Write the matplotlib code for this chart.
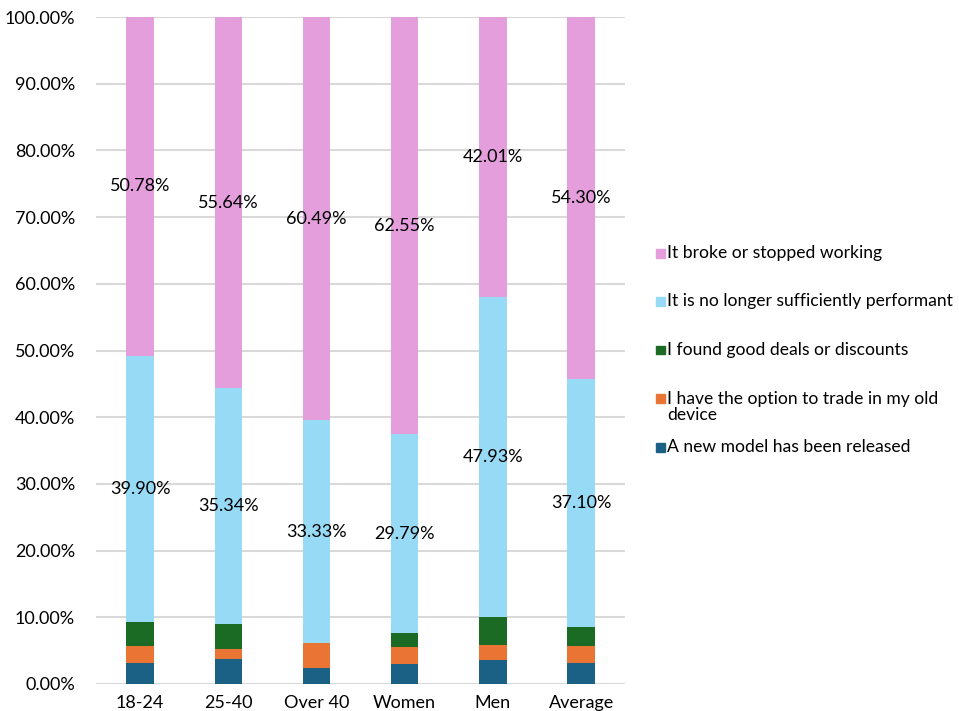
import numpy as np
import matplotlib
matplotlib.use('Agg')
import matplotlib.pyplot as plt
from matplotlib.patches import Rectangle

plt.rcParams['font.family'] = ['Lato', 'DejaVu Sans']

groups = ['18-24', '25-40', 'Over 40', 'Women', 'Men', 'Average']
new_model = [3.10, 3.76, 2.47, 2.98, 3.55, 3.15]
trade_in = [2.56, 1.50, 3.71, 2.55, 2.37, 2.50]
good_deals = [3.66, 3.76, 0.00, 2.13, 4.14, 2.95]
not_performant = [39.90, 35.34, 33.33, 29.79, 47.93, 37.10]
broke = [50.78, 55.64, 60.49, 62.55, 42.01, 54.30]

series = [
    ('A new model has been released', new_model, '#1B6185', False),
    ('I have the option to trade in my old\ndevice', trade_in, '#EA7434', False),
    ('I found good deals or discounts', good_deals, '#1B6B24', False),
    ('It is no longer sufficiently performant', not_performant, '#97DAF6', True),
    ('It broke or stopped working', broke, '#E49EDC', True),
]

FS = 13

fig = plt.figure(figsize=(9.59, 7.11), dpi=100)
ax = fig.add_axes([0.100, 0.038, 0.552, 0.938])

x = np.arange(len(groups))
bottom = np.zeros(len(groups))
for name, vals, color, labelled in series:
    vals = np.array(vals)
    ax.bar(x, vals, width=0.31, bottom=bottom, color=color, zorder=3)
    if labelled:
        for xi, b, v in zip(x, bottom, vals):
            ax.text(xi, b + v / 2, f'{v:.2f}%', ha='center', va='center',
                    fontsize=FS, color='black', zorder=4)
    bottom += vals

ax.set_xlim(-0.5, 5.5)
ax.set_ylim(0, 100)
ax.set_yticks(np.arange(0, 101, 10))
ax.set_yticklabels([f'{v:.2f}%' for v in np.arange(0, 101, 10)])
ax.set_xticks(x)
ax.set_xticklabels(groups)
ax.tick_params(axis='y', length=0, pad=15, labelsize=FS)
ax.tick_params(axis='x', length=0, pad=8, labelsize=FS)
ax.grid(axis='y', color='#D9D9D9', linewidth=1.5, zorder=0)
for s in ax.spines.values():
    s.set_visible(False)

# legend, drawn by hand so the entries sit at fixed heights
W, H = 959, 711
legend_rows = [253, 301, 350, 398, 447]
for (name, vals, color, labelled), ypx in zip(series[::-1], legend_rows):
    fig.patches.append(Rectangle((656 / W, 1 - (ypx + 4.5) / H), 9 / W, 9 / H,
                                 transform=fig.transFigure, color=color))
    ty = ypx + 9.5 if '\n' in name else ypx
    fig.text(667 / W, 1 - ty / H, name, ha='left', va='center',
             fontsize=12.6, linespacing=1.0)

fig.savefig('out.png', dpi=100)
